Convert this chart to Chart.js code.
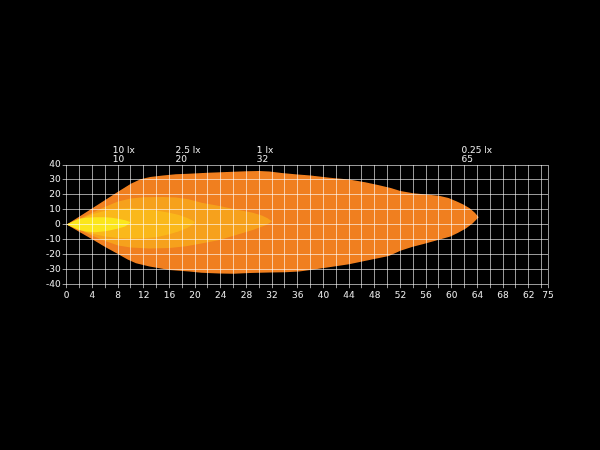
<!DOCTYPE html>
<html><head><meta charset="utf-8">
<script src="https://cdn.jsdelivr.net/npm/chart.js@4/dist/chart.umd.min.js"></script>
<style>html,body{margin:0;padding:0;background:#000;overflow:hidden}</style>
</head><body>
<canvas id="c" width="600" height="450"></canvas>
<script>
// ---- data ----
const xGridValues = [0,2,4,6,8,10,12,14,16,18,20,22,24,26,28,30,32,34,36,38,40,42,44,46,48,50,52,54,56,58,60,62,64,66,68,70,72,74,75];
const xLabelValues = [0,4,8,12,16,20,24,28,32,36,40,44,48,52,56,60,64,68,72,75];
const xTickLabels = ['0','4','8','12','16','20','24','28','32','36','40','44','48','52','56','60','64','68','62','75'];
const yTicks = [-40,-30,-20,-10,0,10,20,30,40];

const luxNames = ['10 lx','2.5 lx','1 lx','0.25 lx'];
const luxDistances = [10,20,32,65];

// 0.25 lx contour
const lux025Upper = [[0,0],[2,5.5],[4,11],[6,16.5],[8,22],[10,27.5],[11.5,30.5],[13,32],[15,33],[17,33.8],[19,34.2],[22,34.8],[25,35.3],[28,35.8],[30,36],[31.6,35.6],[33.5,34.6],[36,33.6],[38,33],[41,31.5],[44,30.2],[46.5,28.5],[48.5,26.5],[50.5,24.5],[52,22.5],[54,21],[56,20.2],[58,19.3],[59.5,17.8],[60.8,15.5],[61.8,13.5],[62.8,11],[63.6,8],[64.2,5]];
const lux025Lower = [[0,0],[2,-5],[4.1,-10.1],[6,-15],[7.7,-19.1],[9.5,-23.5],[10.8,-25.9],[12.9,-28.2],[16,-30.4],[19.1,-31.5],[21,-32.3],[23.8,-32.8],[26,-33],[28.5,-32.4],[31.6,-32.2],[34,-32],[36.2,-31.5],[38,-30.5],[41.4,-28.3],[44,-26.6],[46.6,-24.3],[48.5,-22.5],[50.2,-21],[52,-17.5],[53.8,-15],[55.6,-13],[58,-10.2],[59.8,-8],[61,-5.5],[62.2,-2.6],[63.2,0.5]];
// 1 lx contour
const lux1Upper = [[0,0],[2,4],[4,8],[6,12],[8,15.5],[10,17.5],[12,18.3],[15,18.5],[17,18.2],[19,17],[21,14.6],[23.8,12.4],[26.4,10.1],[29,7.9],[30.5,6],[31.3,4.2],[32,2]];
const lux1Lower = [[0,0],[2,-3.5],[4,-7.5],[6,-11],[8,-14],[10,-15.3],[12.9,-16],[16,-15.7],[18.6,-14.5],[21.2,-12.6],[23.8,-10.3],[26.4,-7],[29,-3.6],[31,-0.5]];
// 2.5 lx contour
const lux25Upper = [[0,0],[2,3.5],[4,7],[6,9.3],[8,10.6],[10,11],[12,10.5],[14,9.5],[16,8],[17.5,6.5],[18.8,4.5],[19.6,2.8],[20,1.5]];
const lux25Lower = [[0,0],[2,-3.5],[4,-6.2],[6,-8],[8,-9],[10,-9.3],[12,-9.2],[14,-8.5],[16,-6.5],[17.5,-4.5],[18.8,-2.3],[19.6,0]];
// 10 lx contour
const lux10Upper = [[0,0],[1.8,3.8],[3,4.6],[4.4,5],[6,5],[7,4.6],[8,4],[9.1,2.9],[10,1.5]];
const lux10Lower = [[0,0],[1.8,-3.4],[3,-4.6],[4.4,-5.2],[6,-4.5],[7,-3.6],[8,-2.6],[9.1,-1.2]];

// ---- build ----
function shape(upper, lower) {
  return upper.concat(lower.slice().reverse()).map(p => ({x: p[0], y: p[1]}));
}
function ds(upper, lower, color) {
  return {
    data: shape(upper, lower),
    showLine: true,
    fill: 'shape',
    backgroundColor: color,
    borderColor: color,
    borderWidth: 0,
    pointRadius: 0,
    tension: 0
  };
}

const FONT = {family: 'DejaVu Sans', size: 9};
const TXT = '#e8e8e8';
const GRID = 'rgba(255,255,255,0.6)';

const luxLabelPlugin = {
  id: 'luxLabels',
  afterDraw(chart) {
    const {ctx, chartArea, scales: {x}} = chart;
    ctx.save();
    ctx.font = '9px "DejaVu Sans"';
    ctx.fillStyle = TXT;
    ctx.textAlign = 'left';
    ctx.textBaseline = 'middle';
    luxNames.forEach((name, i) => {
      const px = x.getPixelForValue(luxDistances[i]);
      const w = ctx.measureText(name).width;
      const left = px - 7 - w / 2;
      ctx.fillText(name, left, chartArea.top - 14);
      ctx.fillText(String(luxDistances[i]), left, chartArea.top - 5.5);
    });
    ctx.restore();
  }
};

new Chart(document.getElementById('c'), {
  type: 'scatter',
  data: {
    datasets: [
      ds(lux10Upper, lux10Lower, '#FBE61C'),
      ds(lux25Upper, lux25Lower, '#FAB81A'),
      ds(lux1Upper, lux1Lower, '#F6A11C'),
      ds(lux025Upper, lux025Lower, '#F07F1F')
    ]
  },
  options: {
    responsive: false,
    animation: false,
    layout: {padding: {left: 44, right: 52, top: 165, bottom: 147}},
    plugins: {legend: {display: false}, tooltip: {enabled: false}},
    scales: {
      x: {
        type: 'linear', min: 0, max: 75,
        afterBuildTicks: s => { s.ticks = xGridValues.map(v => ({value: v})); },
        ticks: {
          autoSkip: false, maxRotation: 0, minRotation: 0, color: TXT, font: FONT, padding: 2,
          callback: v => { const i = xLabelValues.indexOf(v); return i >= 0 ? xTickLabels[i] : ''; }
        },
        grid: {color: GRID, tickColor: GRID, tickLength: 4, lineWidth: 1, z: 1},
        border: {display: false}
      },
      y: {
        type: 'linear', min: -40, max: 40,
        afterBuildTicks: s => { s.ticks = yTicks.map(v => ({value: v})); },
        ticks: {color: TXT, font: FONT, padding: 2},
        grid: {color: GRID, tickColor: GRID, tickLength: 4, lineWidth: 1, z: 1},
        border: {display: false}
      }
    }
  },
  plugins: [luxLabelPlugin]
});
</script>
</body></html>
